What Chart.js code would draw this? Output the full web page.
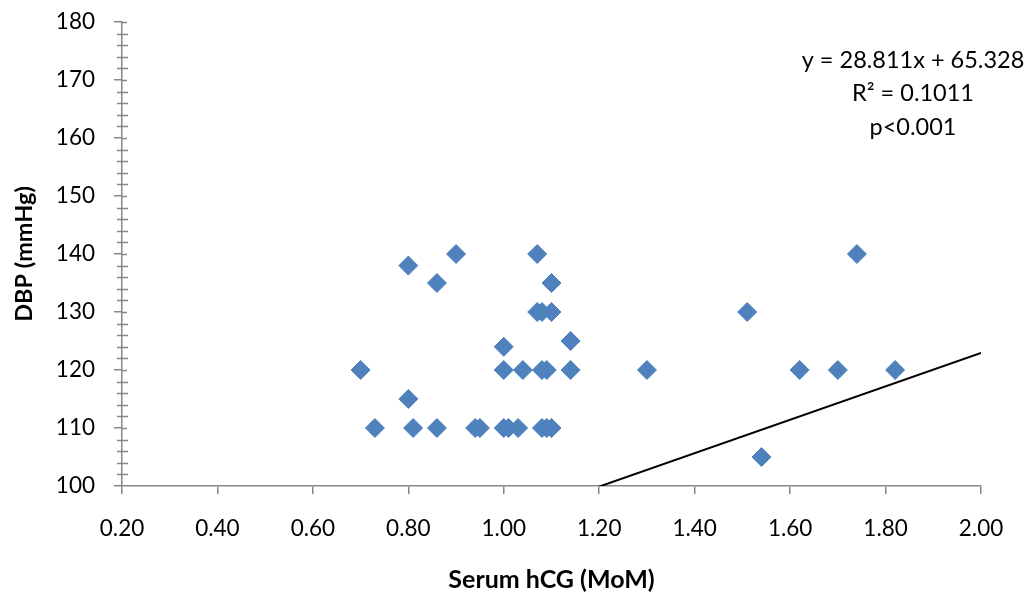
<!DOCTYPE html>
<html>
<head>
<meta charset="utf-8">
<script src="https://cdn.jsdelivr.net/npm/chart.js@4/dist/chart.umd.min.js"></script>
<style>
  html, body { margin: 0; padding: 0; background: #ffffff; }
  #wrap { width: 1031px; height: 597px; position: relative; }
</style>
</head>
<body>
<div id="wrap"><canvas id="c" width="1031" height="597"></canvas></div>
<script>
// Serum hCG (MoM) against diastolic blood pressure (mmHg)
const hcgMoM = [0.80, 0.90, 1.07, 0.86, 1.10, 1.07, 1.08, 1.10, 1.14, 1.00,
                0.70, 1.00, 1.04, 1.08, 1.09, 1.14, 0.80, 0.73, 0.81, 0.86,
                0.94, 0.95, 1.00, 1.01, 1.03, 1.08, 1.09, 1.10, 1.74, 1.51,
                1.30, 1.62, 1.70, 1.82, 1.54];
const dbp    = [138, 140, 140, 135, 135, 130, 130, 130, 125, 124,
                120, 120, 120, 120, 120, 120, 115, 110, 110, 110,
                110, 110, 110, 110, 110, 110, 110, 110, 140, 130,
                120, 120, 120, 120, 105];

// Linear fit reported on the chart
const fitSlope = 28.811;
const fitIntercept = 65.328;
const fitRange = [0.20, 2.00];
const fitLabels = ['y = 28.811x + 65.328', 'R\u00B2 = 0.1011', 'p<0.001'];

// Axis settings
const xRange = [0.20, 2.00];
const xStep = 0.20;
const yRange = [100, 180];
const yStep = 10;
const yMinorStep = 2;

const axisColor = '#878787';
const markerColor = '#4F81BD';
const fontFamily = 'Lato, "Open Sans", sans-serif';

const scatterPoints = hcgMoM.map((x, i) => ({ x: x, y: dbp[i] }));
const fitPoints = fitRange.map(x => ({ x: x, y: fitSlope * x + fitIntercept }));

// Minor tick marks on the y axis and the regression note
const extrasPlugin = {
  id: 'extras',
  afterDraw(chart) {
    const { ctx, chartArea } = chart;
    const ys = chart.scales.y;
    const ax = chartArea.left;
    ctx.save();
    ctx.strokeStyle = axisColor;
    ctx.lineWidth = 1.5;
    for (let v = yRange[0]; v <= yRange[1] + 1e-9; v += yMinorStep) {
      const py = Math.round(ys.getPixelForValue(v)) + 0.5;
      ctx.beginPath();
      if (Math.abs(v % yStep) < 1e-9) {
        if (v === yRange[0]) continue;
        ctx.moveTo(ax, py);
        ctx.lineTo(ax + 5, py);
      } else {
        ctx.moveTo(ax - 5, py);
        ctx.lineTo(ax + 6, py);
      }
      ctx.stroke();
    }
    ctx.fillStyle = '#000000';
    ctx.font = '23.5px ' + fontFamily;
    ctx.textAlign = 'center';
    ctx.textBaseline = 'middle';
    const cx = chartArea.right - 68;
    fitLabels.forEach((t, i) => {
      ctx.fillText(t, cx, chartArea.top + 38 + i * 33.5);
    });
    ctx.restore();
  }
};

new Chart(document.getElementById('c'), {
  type: 'scatter',
  data: {
    datasets: [
      {
        label: 'DBP',
        data: scatterPoints,
        pointStyle: 'rectRot',
        pointRadius: 9.5,
        pointHoverRadius: 9.5,
        backgroundColor: markerColor,
        borderColor: markerColor,
        borderWidth: 1
      },
      {
        label: 'Linear fit',
        type: 'line',
        data: fitPoints,
        borderColor: '#000000',
        borderWidth: 2,
        pointRadius: 0,
        fill: false,
        tension: 0
      }
    ]
  },
  options: {
    responsive: false,
    animation: false,
    events: [],
    layout: { padding: { top: 22, right: 50, bottom: 0, left: 0 } },
    plugins: {
      legend: { display: false },
      tooltip: { enabled: false }
    },
    scales: {
      x: {
        type: 'linear',
        min: xRange[0],
        max: xRange[1],
        afterFit(scale) {
          scale.height = 111;
          scale.paddingLeft = 0;
          scale.paddingRight = 0;
        },
        border: { display: true, color: axisColor, width: 1.5 },
        grid: { drawOnChartArea: false, drawTicks: true, tickLength: 8, color: axisColor, lineWidth: 1.5 },
        ticks: {
          stepSize: xStep,
          padding: 21,
          color: '#000000',
          font: { family: fontFamily, size: 22.5 },
          callback: v => Number(v).toFixed(2)
        },
        title: {
          display: true,
          text: 'Serum hCG (MoM)',
          color: '#000000',
          font: { family: fontFamily, size: 25, weight: 'bold' },
          padding: { top: 0, bottom: 2 }
        }
      },
      y: {
        type: 'linear',
        min: yRange[0],
        max: yRange[1],
        afterFit(scale) {
          scale.width = 122;
          scale.paddingTop = 0;
          scale.paddingBottom = 0;
        },
        border: { display: true, color: axisColor, width: 1.5 },
        grid: { drawOnChartArea: false, drawTicks: true, tickLength: 8, color: axisColor, lineWidth: 1.5 },
        ticks: {
          stepSize: yStep,
          padding: 19,
          color: '#000000',
          font: { family: fontFamily, size: 22.5 }
        },
        title: {
          display: true,
          text: 'DBP (mmHg)',
          color: '#000000',
          font: { family: fontFamily, size: 23.5, weight: 'bold' },
          padding: { top: 10, bottom: 0 }
        }
      }
    }
  },
  plugins: [extrasPlugin]
});
</script>
</body>
</html>
